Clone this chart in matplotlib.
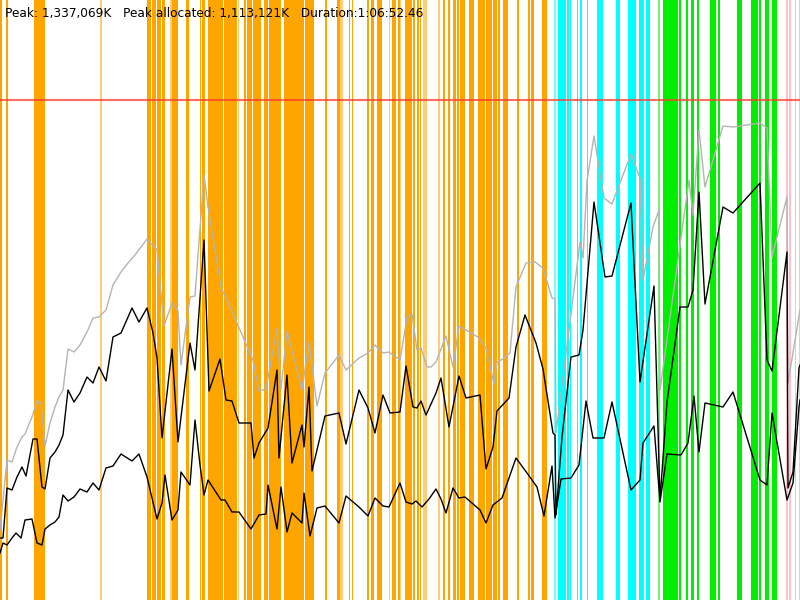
import matplotlib
matplotlib.use("Agg")
import matplotlib.pyplot as plt

# time axis 0..800, memory axis 0..600 (arbitrary units)
limit_line = 500

gray_x = [0, 7, 12, 17, 22, 25, 32, 37, 41, 45, 50, 55, 59, 63, 68, 74, 80, 87, 93, 99,
          106, 113, 121, 128, 135, 147, 157, 164, 172, 178, 181, 190, 195, 204, 208, 221, 237, 253, 259, 266,
          277, 281, 287, 302, 309, 317, 325, 339, 346, 359, 368, 375, 383, 389, 400, 407, 412, 417, 421, 427,
          431, 436, 446, 453, 459, 478, 486, 494, 497, 503, 510, 516, 526, 535, 543, 552, 555, 556, 580, 583,
          587, 594, 604, 612, 631, 640, 643, 653, 659, 660, 689, 693, 699, 705, 723, 733, 760, 767, 772, 787,
          788, 799, 800]
gray_y = [70, 140, 138, 153, 163, 166, 183, 199, 197, 154, 177, 193, 203, 210, 251, 248, 255, 268, 282, 283,
          290, 315, 328, 337, 345, 361, 350, 274, 297, 289, 235, 303, 304, 425, 393, 313, 277, 240, 209, 211,
          272, 211, 269, 210, 258, 194, 227, 245, 230, 242, 247, 255, 247, 248, 240, 282, 286, 250, 252, 233,
          233, 238, 264, 233, 274, 263, 252, 216, 238, 241, 247, 313, 337, 338, 332, 302, 301, 167, 358, 342,
          419, 464, 402, 396, 446, 422, 320, 373, 390, 210, 420, 385, 470, 413, 474, 473, 477, 472, 343, 403,
          217, 284, 290]

mid_x = [0, 3, 7, 12, 17, 22, 26, 33, 37, 42, 45, 50, 55, 59, 63, 68, 74, 80, 87, 93,
         99, 106, 113, 121, 132, 139, 147, 153, 157, 162, 172, 178, 190, 195, 204, 209, 220, 226, 232, 239,
         251, 254, 259, 268, 277, 279, 287, 292, 302, 304, 309, 312, 325, 339, 346, 359, 368, 375, 383, 390,
         400, 406, 413, 417, 421, 426, 436, 441, 449, 459, 466, 480, 486, 493, 497, 509, 516, 525, 536, 543,
         553, 555, 556, 562, 571, 579, 583, 594, 605, 612, 631, 640, 654, 660, 667, 680, 688, 693, 699, 705,
         723, 733, 760, 767, 772, 787, 788, 793, 799, 800]
mid_y = [62, 62, 112, 110, 123, 133, 124, 161, 161, 113, 111, 142, 148, 155, 165, 210, 198, 207, 223, 217,
         233, 219, 263, 267, 292, 278, 292, 267, 242, 162, 251, 158, 257, 230, 360, 209, 241, 200, 199, 177,
         177, 142, 157, 172, 230, 142, 225, 137, 175, 153, 213, 129, 184, 187, 156, 210, 192, 167, 205, 187,
         188, 234, 193, 192, 199, 185, 207, 222, 173, 224, 202, 205, 131, 153, 189, 202, 253, 285, 257, 231,
         167, 165, 85, 163, 243, 245, 270, 398, 323, 324, 397, 218, 314, 100, 198, 293, 293, 310, 408, 296,
         393, 387, 417, 240, 229, 348, 112, 128, 232, 235]

low_x = [0, 3, 7, 12, 16, 21, 25, 32, 37, 42, 45, 50, 55, 59, 63, 68, 74, 80, 87, 93,
         99, 106, 113, 121, 132, 139, 147, 157, 162, 165, 172, 178, 181, 190, 195, 200, 204, 208, 221, 225,
         232, 239, 251, 259, 266, 268, 277, 281, 287, 292, 302, 304, 310, 317, 325, 339, 346, 359, 368, 375,
         383, 389, 400, 406, 412, 416, 422, 429, 436, 441, 446, 453, 459, 465, 480, 486, 493, 502, 516, 527,
         537, 544, 552, 555, 561, 571, 579, 586, 593, 604, 612, 631, 640, 643, 654, 660, 667, 681, 688, 694,
         699, 705, 723, 733, 760, 767, 772, 787, 793, 799, 800]
low_y = [47, 57, 55, 62, 67, 62, 80, 81, 57, 55, 71, 75, 78, 83, 105, 99, 103, 111, 108, 117,
         110, 132, 134, 146, 139, 146, 123, 81, 97, 125, 80, 90, 128, 115, 180, 135, 105, 120, 100, 100,
         88, 88, 71, 85, 86, 115, 71, 113, 68, 87, 77, 107, 64, 92, 94, 77, 104, 93, 84, 102,
         94, 93, 117, 98, 96, 99, 93, 101, 111, 101, 87, 112, 102, 103, 90, 77, 95, 102, 142, 127,
         113, 84, 134, 82, 121, 122, 135, 199, 162, 162, 198, 110, 120, 157, 174, 98, 146, 145, 157, 204,
         148, 197, 193, 208, 120, 115, 187, 100, 117, 193, 200]

# phase markers (start, end)
orange_spans = [(0, 2), (6, 7.7), (34, 38.3), (39, 44.3), (147, 151), (152, 156), (157, 161), (162, 165),
                (172.5, 178), (186, 189), (200, 201), (202, 205), (208, 223), (223.7, 237), (244, 246),
                (247, 252), (253, 261), (264, 268), (269, 281), (284, 304), (305, 314), (325, 327), (337, 340),
                (348.7, 350), (351.7, 353), (366.7, 368.7), (370.7, 374), (376.7, 381.7), (391.7, 395.3),
                (397.7, 400), (404.7, 411.7), (413, 415), (417, 419), (420, 421), (443, 445), (447.7, 450),
                (452.7, 455.7), (456.7, 458.7), (460, 465), (468.7, 474), (477.7, 485), (486, 492),
                (493, 496.7), (497.7, 500), (502.7, 507.3), (516.7, 518.7), (527.7, 529.7), (531.3, 533.7),
                (542, 546.3)]
orange_faint = [(100, 101.3), (170, 172.5), (237.7, 239), (340, 343), (388.7, 389.3), (400, 401),
                (423, 426.7), (437.7, 440)]
cyan_spans = [(557.7, 563.3), (564, 566), (566.7, 568.7), (569.7, 570.3), (576.7, 578), (580.3, 581.7),
              (586.7, 587.7), (596.7, 602.7), (616, 620), (628, 633.7), (634.3, 635.3), (639, 643.7),
              (645.7, 649.3)]
cyan_faint = [(554, 555.3)]
green_spans = [(662.7, 674.7), (675.3, 677.3), (678.7, 680.7), (686, 687.7), (691.3, 693.7), (696.7, 698.7),
               (710.3, 715.3), (717.7, 719.3), (737, 742), (750.7, 757.3), (759, 761), (764.7, 768.7),
               (772, 777)]
green_faint = [(658, 659.3)]
pink_spans = [(786, 787.3), (789.3, 790.7), (795, 796), (799.3, 800)]

pad = 0.2  # widen each span a touch so thin ones show at full colour

fig = plt.figure(figsize=(8, 6), dpi=100)
ax = fig.add_axes([0, 0, 1, 1])

for spans, faint, col in [(orange_spans, orange_faint, '#ffa500'),
                          (cyan_spans, cyan_faint, '#00ffff'),
                          (green_spans, green_faint, '#00ee00'),
                          (pink_spans, [], '#ffc0cb')]:
    for a, b in spans:
        ax.axvspan(a - pad, b + pad, color=col, lw=0)
    for a, b in faint:
        ax.axvspan(a - pad, b + pad, color=col, alpha=0.55, lw=0)

ax.axhline(limit_line, color='#ff3b30', alpha=0.75, lw=1.5)

ax.plot(gray_x, gray_y, color='#b4b4b4', lw=1)
ax.plot(mid_x, mid_y, color='black', lw=1)
ax.plot(low_x, low_y, color='black', lw=1)

ax.set_xlim(0, 800)
ax.set_ylim(0, 600)
ax.axis('off')

fig.text(5 / 800, 1 - 13 / 600, 'Peak: 1,337,069K   Peak allocated: 1,113,121K   Duration:1:06:52.46',
         fontsize=8.7, va='center', ha='left', color='black')

fig.savefig('out.png', dpi=100)
